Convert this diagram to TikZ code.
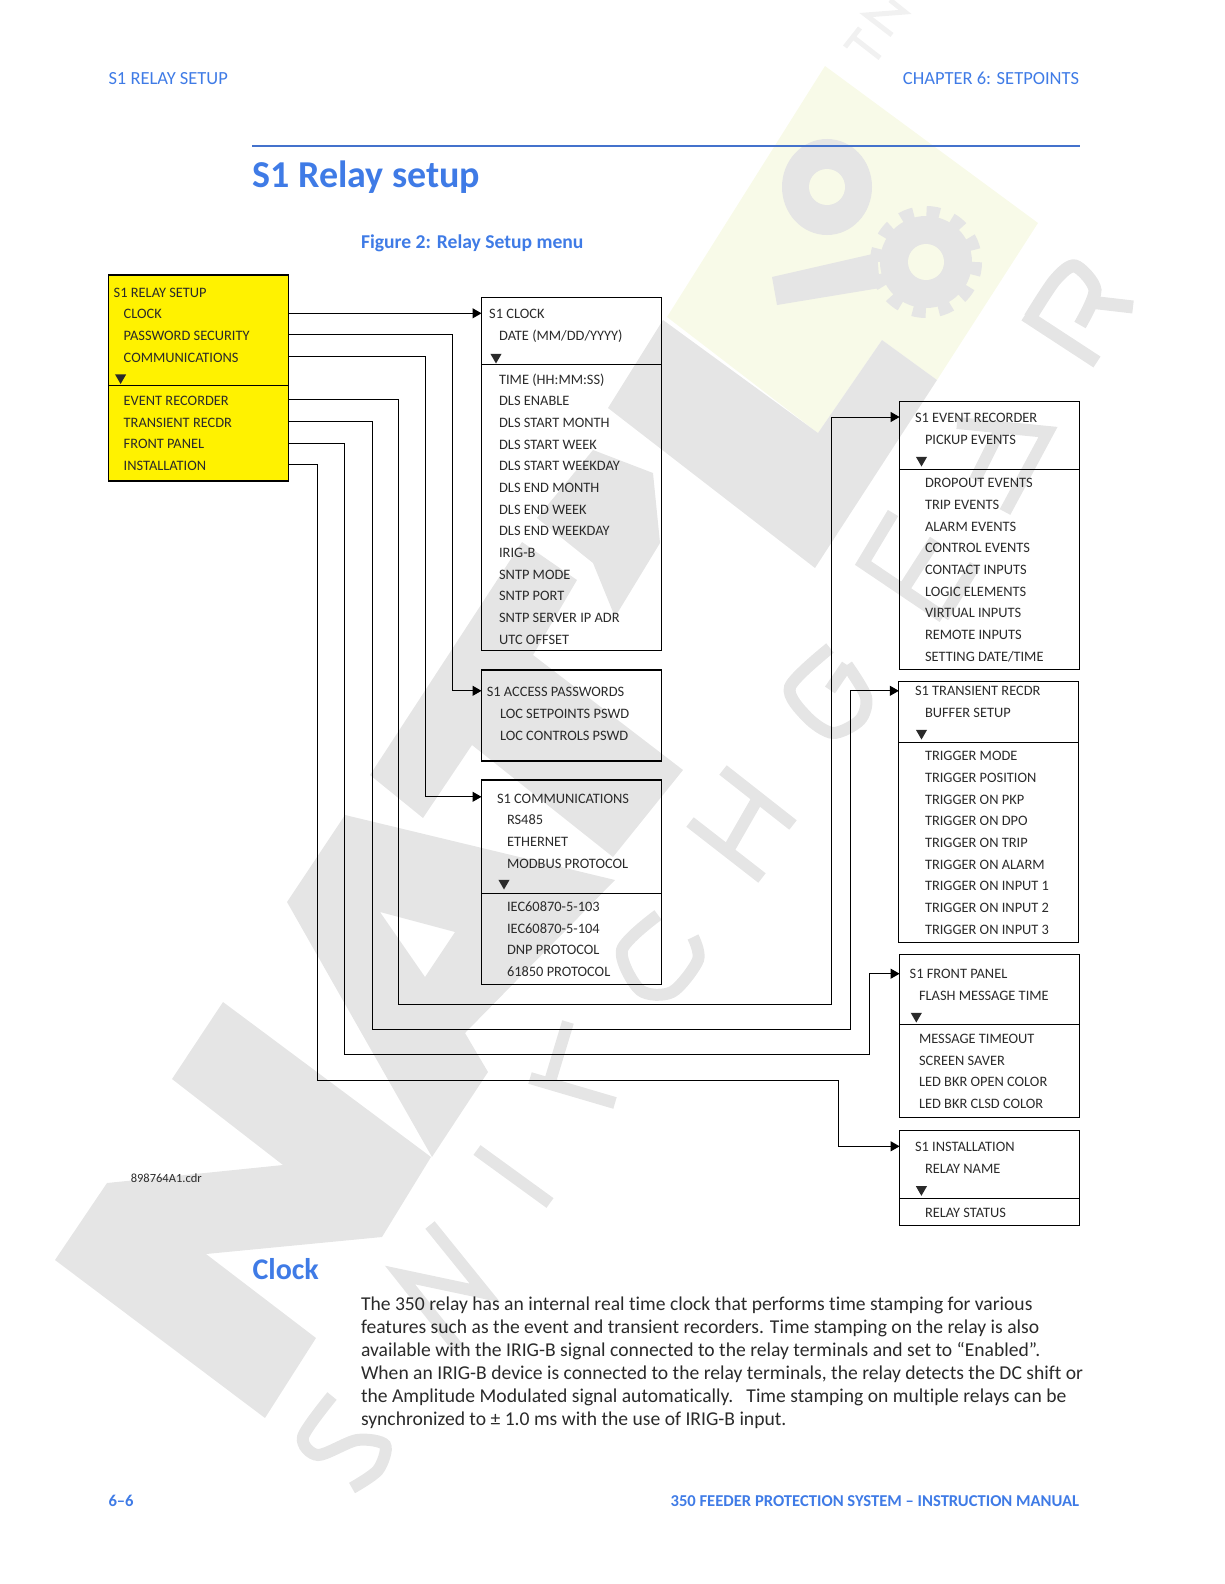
\documentclass[tikz,border=0pt]{standalone}
\usepackage{fontspec}
\setmainfont{Carlito}[Ligatures={TeX,NoCommon}]
\usetikzlibrary{arrows.meta,positioning,shapes.geometric}
\definecolor{menuyellow}{HTML}{FFF200}
\definecolor{headblue}{HTML}{3F7BE6}
\definecolor{ruleblue}{HTML}{4472CC}
\definecolor{wmgray}{HTML}{E5E5E5}
\definecolor{wmyellow}{HTML}{F8FAE8}
\definecolor{inkgray}{HTML}{2A2A2A}
\tikzset{
  nextline/.style={menuline,below=21.67pt of #1.west,anchor=west},
  skipline/.style={menuline,below=43.34pt of #1.west,anchor=west}
}
\begin{document}
\begin{tikzpicture}[->,>={Triangle[length=9pt,width=10pt]},line width=1pt,x=1pt,y=-1pt]
  \tikzstyle{menubox}=[draw=black,line width=1.1pt,rectangle,inner sep=0pt,outer sep=0pt,anchor=north west]
  \tikzstyle{menuline}=[inner sep=0pt,anchor=west,text=inkgray,text height=11pt,text depth=0pt,font=\fontsize{14.4}{14}\selectfont]
  \tikzstyle{menutri}=[regular polygon,regular polygon sides=3,shape border rotate=180,fill=inkgray,inner sep=0pt,minimum size=13pt]
  \tikzstyle{divider}=[-,line width=1pt]
  \tikzstyle{pagehead}=[inner sep=0pt,text=headblue,font=\fontsize{18.5}{18}\selectfont]
  \tikzstyle{wmstroke}=[-,draw=wmgray,line width=12pt]
\useasboundingbox (0,0) rectangle (1224,1584);

% watermark
\fill[wmyellow] (825,66) -- (1038,223) -- (937,380) -- (882,340) -- (818,433) -- (667,317) -- cycle;
\fill[wmgray] (223,1002) -- (431,1157) -- (382,1237) -- (206,1254) -- (316,1338) -- (265,1418) -- (55,1260) -- (107,1183) -- (283,1165) -- (172,1079) -- cycle;
\fill[wmgray,even odd rule] (287,902) -- (345,815) -- (615,880) -- (465,1033) -- (488,1072) -- (432,1157) -- cycle (380,912) -- (455,932) -- (425,977) -- cycle;
\fill[wmgray] (522,542) -- (577,580) -- (533,655) -- (683,770) -- (613,857) -- (472,745) -- (423,818) -- (370,775) -- cycle;
\fill[wmgray] (593,450) -- (653,473) -- (660,543) -- (615,617) -- (593,563) -- (537,518) -- cycle;
\fill[wmgray] (663,320) -- (818,433) -- (882,340) -- (937,380) -- (815,568) -- (608,408) -- cycle;
\draw[wmstroke] plot[smooth] coordinates {(332,1396) (303,1437) (318,1455) (357,1440) (385,1445) (378,1470) (352,1488)};
\draw[wmstroke] (430,1225) -- (485,1293) -- (400,1275) -- (458,1348);
\draw[wmstroke] (477,1150) -- (550,1203);
\draw[wmstroke] (530,1078) -- (615,1103) (568,1022) -- (548,1088);
\draw[wmstroke] plot[smooth] coordinates {(658,915) (622,950) (640,990) (672,992) (698,960) (693,937)};
\draw[wmstroke] (723,770) -- (793,825) (690,822) -- (762,878) (757,800) -- (730,847);
\draw[wmstroke] plot[smooth] coordinates {(830,648) (790,687) (807,717) (833,733) (860,720) (866,697) (847,665)};
\draw[wmstroke] (847,665) -- (830,690);
\draw[wmstroke] (893,513) -- (863,563) -- (943,617) (903,590) -- (935,540) (943,617) -- (975,565);
\draw[wmstroke] (957,423) -- (1048,432) -- (1005,512) (1000,430) -- (975,480);
\draw[wmstroke,line width=13pt] plot[smooth] coordinates {(1030,318) (1055,280) (1075,266) (1095,290) (1080,325)};
\draw[wmstroke,line width=13pt] (1025,315) -- (1097,362) (1090,302) -- (1133,307);
\draw[wmstroke,draw=wmgray!55,line width=5pt] (845,47) -- (860,28) (853,37) -- (880,58) (892,35) -- (866,15) -- (905,12) -- (890,0);
\fill[wmgray] (827,187) ellipse [x radius=45,y radius=48];
\fill[wmyellow] (827,187) ellipse [x radius=18,y radius=18];
\fill[wmgray] (772,277) -- (777,305) -- (880,288) -- (877,253) -- cycle;
\fill[wmgray] (926,262) circle [radius=46];
\draw[-,draw=wmgray,line width=14pt,dash pattern=on 13pt off 12.7pt] (926,262) circle [radius=49];
\fill[wmyellow] (926,262) ellipse [x radius=18,y radius=18];

% page furniture
\node[pagehead,anchor=west] (headleft) at (108,78.5) {S1 RELAY SETUP};
\node[pagehead,anchor=east] (headright) at (1079.6,78.5) {CHAPTER 6: SETPOINTS};
\coordinate (ruleleft) at (252,146);
\coordinate (ruleright) at (1080,146);
\draw[-,draw=ruleblue,line width=2pt] (ruleleft) -- (ruleright);
\node[inner sep=0pt,anchor=west,text=headblue,font=\fontsize{38}{38}\selectfont\bfseries] (pagetitle) at (252,177) {S1 Relay setup};
\node[inner sep=0pt,anchor=west,text=headblue,font=\fontsize{19.6}{20}\selectfont\bfseries] (figcaption) at (360.5,243) {Figure 2: Relay Setup menu};

% main menu
\node[menubox,fill=menuyellow,minimum width=180.2pt,minimum height=206pt] (relay) at (108.4,275) {};
\draw[divider] (relay.west |- 0,385.3) -- (relay.east |- 0,385.3);
\node[menuline] (rl0) at (113.2,292) {S1 RELAY SETUP};
\node[menuline] (rl1) at (123.2,313.3) {CLOCK};
\node[nextline=rl1] (rl2) {PASSWORD SECURITY};
\node[nextline=rl2] (rl3) {COMMUNICATIONS};
\node[menutri] (rltri) at (120.6,377.5) {};
\node[skipline=rl3] (rl4) {EVENT RECORDER};
\node[nextline=rl4] (rl5) {TRANSIENT RECDR};
\node[nextline=rl5] (rl6) {FRONT PANEL};
\node[nextline=rl6] (rl7) {INSTALLATION};

% clock
\node[menubox,minimum width=179.9pt,minimum height=353pt] (clk) at (481.5,297.3) {};
\draw[divider] (clk.west |- 0,364.3) -- (clk.east |- 0,364.3);
\node[menuline] (clk0) at (488.7,313.3) {S1 CLOCK};
\node[menuline] (clk1) at (498.6,335.3) {DATE (MM/DD/YYYY)};
\node[menutri] (clktri) at (496,357) {};
\node[skipline=clk1] (clk2) {TIME (HH:MM:SS)};
\node[nextline=clk2] (clk3) {DLS ENABLE};
\node[nextline=clk3] (clk4) {DLS START MONTH};
\node[nextline=clk4] (clk5) {DLS START WEEK};
\node[nextline=clk5] (clk6) {DLS START WEEKDAY};
\node[nextline=clk6] (clk7) {DLS END MONTH};
\node[nextline=clk7] (clk8) {DLS END WEEK};
\node[nextline=clk8] (clk9) {DLS END WEEKDAY};
\node[nextline=clk9] (clk10) {IRIG-B};
\node[nextline=clk10] (clk11) {SNTP MODE};
\node[nextline=clk11] (clk12) {SNTP PORT};
\node[nextline=clk12] (clk13) {SNTP SERVER IP ADR};
\node[nextline=clk13] (clk14) {UTC OFFSET};

% passwords
\node[menubox,minimum width=179.9pt,minimum height=91pt] (pwd) at (481.5,670) {};
\node[menuline] (pwd0) at (486.3,691) {S1 ACCESS PASSWORDS};
\node[menuline] (pwd1) at (499.5,713) {LOC SETPOINTS PSWD};
\node[nextline=pwd1] (pwd2) {LOC CONTROLS PSWD};

% communications
\node[menubox,minimum width=179.9pt,minimum height=204.3pt] (com) at (481.5,780) {};
\draw[divider] (com.west |- 0,893) -- (com.east |- 0,893);
\node[menuline] (com0) at (496.5,798) {S1 COMMUNICATIONS};
\node[menuline] (com1) at (506.5,819.3) {RS485};
\node[nextline=com1] (com2) {ETHERNET};
\node[nextline=com2] (com3) {MODBUS PROTOCOL};
\node[menutri] (comtri) at (504,883) {};
\node[skipline=com3] (com4) {IEC60870-5-103};
\node[nextline=com4] (com5) {IEC60870-5-104};
\node[nextline=com5] (com6) {DNP PROTOCOL};
\node[nextline=com6] (com7) {61850 PROTOCOL};

% event recorder
\node[menubox,minimum width=180pt,minimum height=268.5pt] (evt) at (899.6,401.3) {};
\draw[divider] (evt.west |- 0,469.6) -- (evt.east |- 0,469.6);
\node[menuline] (evt0) at (914.5,417.3) {S1 EVENT RECORDER};
\node[menuline] (evt1) at (924.5,439) {PICKUP EVENTS};
\node[menutri] (evttri) at (921.5,460) {};
\node[skipline=evt1] (evt2) {DROPOUT EVENTS};
\node[nextline=evt2] (evt3) {TRIP EVENTS};
\node[nextline=evt3] (evt4) {ALARM EVENTS};
\node[nextline=evt4] (evt5) {CONTROL EVENTS};
\node[nextline=evt5] (evt6) {CONTACT INPUTS};
\node[nextline=evt6] (evt7) {LOGIC ELEMENTS};
\node[nextline=evt7] (evt8) {VIRTUAL INPUTS};
\node[nextline=evt8] (evt9) {REMOTE INPUTS};
\node[nextline=evt9] (evt10) {SETTING DATE/TIME};

% transient recorder
\node[menubox,minimum width=180pt,minimum height=261.5pt] (trs) at (898.8,681.2) {};
\draw[divider] (trs.west |- 0,742.5) -- (trs.east |- 0,742.5);
\node[menuline] (trs0) at (914.5,690) {S1 TRANSIENT RECDR};
\node[menuline] (trs1) at (924.5,712) {BUFFER SETUP};
\node[menutri] (trstri) at (921.5,733) {};
\node[skipline=trs1] (trs2) {TRIGGER MODE};
\node[nextline=trs2] (trs3) {TRIGGER POSITION};
\node[nextline=trs3] (trs4) {TRIGGER ON PKP};
\node[nextline=trs4] (trs5) {TRIGGER ON DPO};
\node[nextline=trs5] (trs6) {TRIGGER ON TRIP};
\node[nextline=trs6] (trs7) {TRIGGER ON ALARM};
\node[nextline=trs7] (trs8) {TRIGGER ON INPUT 1};
\node[nextline=trs8] (trs9) {TRIGGER ON INPUT 2};
\node[nextline=trs9] (trs10) {TRIGGER ON INPUT 3};

% front panel
\node[menubox,minimum width=180pt,minimum height=163pt] (fnt) at (899.6,954.5) {};
\draw[divider] (fnt.west |- 0,1024.3) -- (fnt.east |- 0,1024.3);
\node[menuline] (fnt0) at (909.2,973.3) {S1 FRONT PANEL};
\node[menuline] (fnt1) at (918.5,994.5) {FLASH MESSAGE TIME};
\node[menutri] (fnttri) at (916.3,1016) {};
\node[skipline=fnt1] (fnt2) {MESSAGE TIMEOUT};
\node[nextline=fnt2] (fnt3) {SCREEN SAVER};
\node[nextline=fnt3] (fnt4) {LED BKR OPEN COLOR};
\node[nextline=fnt4] (fnt5) {LED BKR CLSD COLOR};

% installation
\node[menubox,minimum width=180pt,minimum height=95pt] (ins) at (899.6,1130.3) {};
\draw[divider] (ins.west |- 0,1198.3) -- (ins.east |- 0,1198.3);
\node[menuline] (ins0) at (914.5,1146.3) {S1 INSTALLATION};
\node[menuline] (ins1) at (924.5,1168.3) {RELAY NAME};
\node[menutri] (instri) at (921.4,1189.3) {};
\node[skipline=ins1] (ins2) {RELAY STATUS};

% connectors
\coordinate (pwdbend) at (452.4,690.8);
\coordinate (combend) at (425.6,796.8);
\coordinate (evtlow) at (398.5,1004.3);
\coordinate (evtbend) at (831.6,417);
\coordinate (trslow) at (372.4,1029.3);
\coordinate (trsbend) at (850.5,690.8);
\coordinate (fntlow) at (344.5,1054.3);
\coordinate (fntbend) at (869.4,973.7);
\coordinate (inslow) at (317.8,1080.3);
\coordinate (insbend) at (838.3,1146.3);
\draw (rl1 -| relay.east) -- (rl1 -| clk.west);
\draw (rl2 -| relay.east) -| (pwdbend) -- (pwdbend -| pwd.west);
\draw (rl3 -| relay.east) -| (combend) -- (combend -| com.west);
\draw (rl4 -| relay.east) -| (evtlow) -| (evtbend) -- (evtbend -| evt.west);
\draw (rl5 -| relay.east) -| (trslow) -| (trsbend) -- (trsbend -| trs.west);
\draw (rl6 -| relay.east) -| (fntlow) -| (fntbend) -- (fntbend -| fnt.west);
\draw (rl7 -| relay.east) -| (inslow) -| (insbend) -- (insbend -| ins.west);

% text under the figure
\node[inner sep=0pt,anchor=west,text=inkgray,font=\fontsize{12.5}{12.5}\selectfont] (drawingno) at (130.3,1178) {898764A1.cdr};
\node[inner sep=0pt,anchor=west,text=headblue,font=\fontsize{30}{30}\selectfont\bfseries] (clockhead) at (252,1269.5) {Clock};
\node[inner sep=0pt,anchor=north west,align=left,text=inkgray,font=\fontsize{19.6}{23.1}\selectfont] (clockbody) at (360.5,1296) {The 350 relay has an internal real time clock that performs time stamping for various\\
features such as the event and transient recorders. Time stamping on the relay is also\\
available with the IRIG-B signal connected to the relay terminals and set to “Enabled”.\\
When an IRIG-B device is connected to the relay terminals, the relay detects the DC shift or\\
the Amplitude Modulated signal automatically.\ \ \ Time stamping on multiple relays can be\\
synchronized to ± 1.0 ms with the use of IRIG-B input.};
\node[inner sep=0pt,anchor=west,text=headblue,font=\fontsize{16.6}{16.6}\selectfont\bfseries] (footleft) at (108,1501) {6–6};
\node[inner sep=0pt,anchor=east,text=headblue,font=\fontsize{16.6}{16.6}\selectfont\bfseries] (footright) at (1079.6,1501) {350 FEEDER PROTECTION SYSTEM – INSTRUCTION MANUAL};
\end{tikzpicture}
\end{document}
